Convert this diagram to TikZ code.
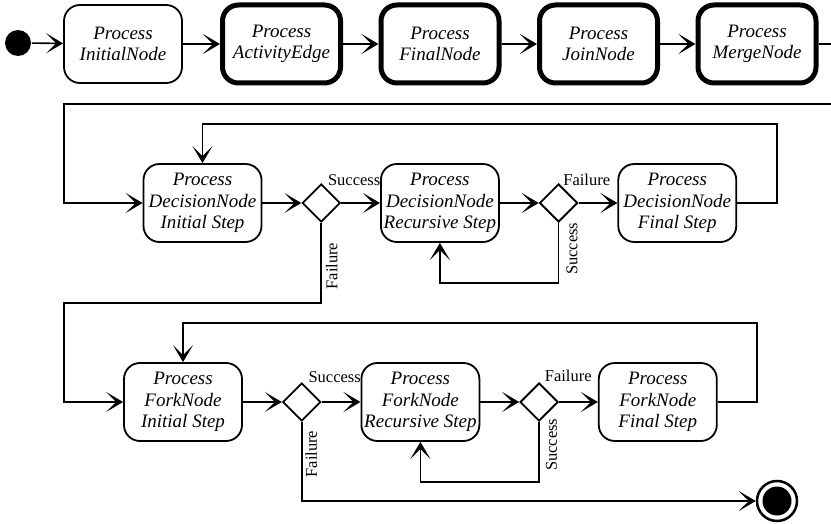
\documentclass[tikz,border=0pt]{standalone}
\usepackage{fontspec}
\setmainfont{Liberation Serif}
\usetikzlibrary{arrows.meta,shapes.geometric}

\begin{document}
\begin{tikzpicture}[x=1pt,y=-1pt,->,>={Stealth[length=17pt,width=20pt,inset=10pt]},
                    line width=1.6pt,node distance=118.7pt]
  \tikzstyle{activity}=[draw,rectangle,rounded corners=16pt,align=center,
                        minimum width=118pt,minimum height=78pt,inner sep=2pt,
                        line width=1.8pt,font=\fontsize{19}{21.5}\selectfont\itshape]
  \tikzstyle{process}=[activity,line width=5pt]
  \tikzstyle{decision}=[draw,diamond,minimum width=38pt,minimum height=38pt,
                        inner sep=0pt,line width=1.8pt]
  \tikzstyle{guard}=[inner sep=1pt,font=\fontsize{16.5}{18}\selectfont]
  \tikzstyle{startdot}=[circle,fill,minimum size=26pt,inner sep=0pt]
  \tikzstyle{stopdot}=[circle,draw,line width=2.5pt,minimum size=40pt,inner sep=0pt,
                       path picture={\fill (path picture bounding box.center) circle (14.5pt);}]

  \useasboundingbox (0,0) rectangle (831,524);
  \clip (0,0) rectangle (831,524);

  % the chain of node processors
  \node[startdot]      (start) at (18,43)   {};
  \node[activity]      (init)  at (123,44)  {Process\\InitialNode};
  \node[process]       (edge)  [right of=init,node distance=158.5pt]  {Process\\ActivityEdge};
  \node[process]       (final) [right of=edge,node distance=158.5pt]  {Process\\FinalNode};
  \node[process]       (join)  [right of=final,node distance=158.5pt] {Process\\JoinNode};
  \node[process]       (merge) [right of=join,node distance=158.5pt]  {Process\\MergeNode};

  % decision node steps
  \node[activity]      (dinit)  at (202.5,203) {Process\\DecisionNode\\Initial Step};
  \node[decision]      (dec1)   [right of=dinit] {};
  \node[activity]      (drec)   [right of=dec1]  {Process\\DecisionNode\\Recursive Step};
  \node[decision]      (dec2)   [right of=drec]  {};
  \node[activity]      (dfinal) [right of=dec2]  {Process\\DecisionNode\\Final Step};

  % fork node steps
  \node[activity]      (finit)  at (183,402)   {Process\\ForkNode\\Initial Step};
  \node[decision]      (dec3)   [right of=finit] {};
  \node[activity]      (frec)   [right of=dec3]  {Process\\ForkNode\\Recursive Step};
  \node[decision]      (dec4)   [right of=frec]  {};
  \node[activity]      (ffinal) [right of=dec4]  {Process\\ForkNode\\Final Step};

  \node[stopdot]       (stop)   at (777,501)   {};

  \coordinate (wrapR)  at (850,104);
  \coordinate (wrapL)  at (64,104);
  \coordinate (dback)  at (777,124);
  \coordinate (fwrap)  at (64,303);
  \coordinate (fback)  at (757,323);

  \path (start) edge (init)
        (init)  edge (edge)
        (edge)  edge (final)
        (final) edge (join)
        (join)  edge (merge);

  \draw (merge.east) -| (wrapR) -- (wrapL) |- (dinit.west);

  \path (dinit) edge (dec1)
        (dec1)  edge (drec)
        (drec)  edge (dec2)
        (dec2)  edge (dfinal);
  \draw (dfinal.east) -| (dback) -| (dinit.north);
  \draw (dec2.south) -- ++(0,60) -| (drec.south);
  \draw (dec1.south) |- (fwrap) |- (finit.west);

  \path (finit) edge (dec3)
        (dec3)  edge (frec)
        (frec)  edge (dec4)
        (dec4)  edge (ffinal);
  \draw (ffinal.east) -| (fback) -| (finit.north);
  \draw (dec4.south) -- ++(0,60) -| (frec.south);
  \draw (dec3.south) |- (stop);

  % guards
  \node[guard,anchor=south west] (s1) at ([shift={(5,4)}]dec1.north) {Success};
  \node[guard,anchor=south west] (f2) at ([shift={(3,4)}]dec2.north) {Failure};
  \node[guard,anchor=south west] (s3) at ([shift={(5,2)}]dec3.north) {Success};
  \node[guard,anchor=south west] (f4) at ([shift={(4,1)}]dec4.north) {Failure};
  \node[guard,rotate=90,anchor=north east] (f1) at ([shift={(3,18)}]dec1.south) {Failure};
  \node[guard,rotate=90,anchor=north east] (s2) at ([shift={(6,-2)}]dec2.south) {Success};
  \node[guard,rotate=90,anchor=north east] (f3) at ([shift={(2,7)}]dec3.south) {Failure};
  \node[guard,rotate=90,anchor=north east] (s4) at ([shift={(5,-5)}]dec4.south) {Success};
\end{tikzpicture}
\end{document}
